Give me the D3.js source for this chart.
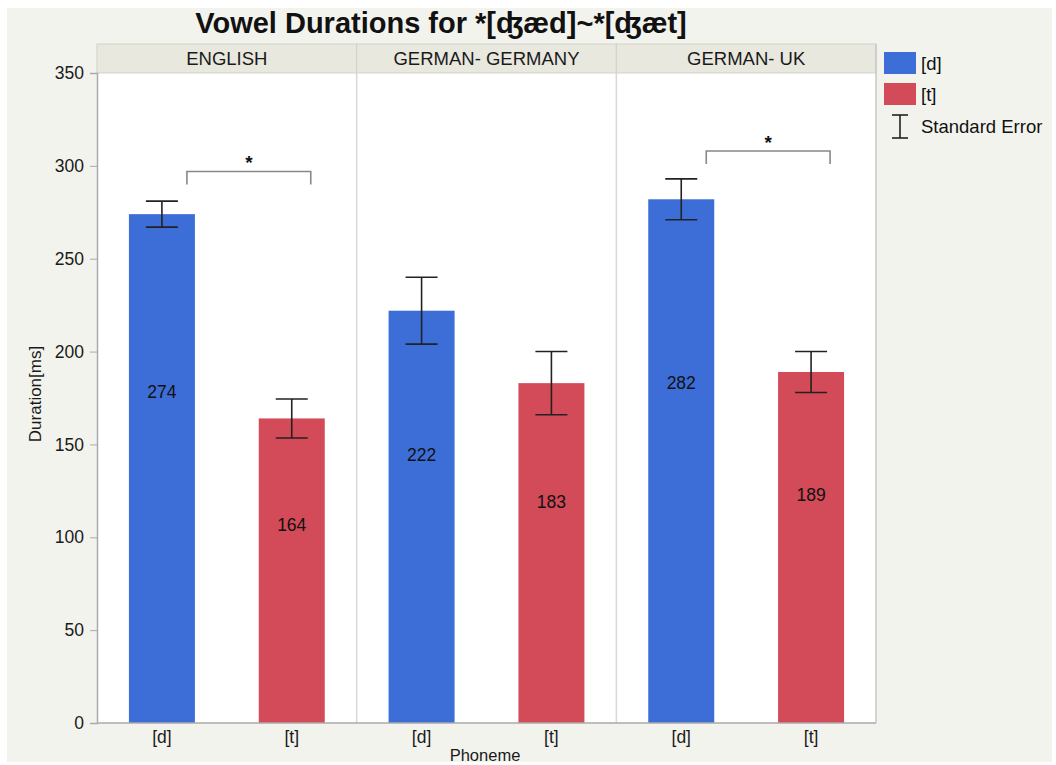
<!DOCTYPE html>
<html>
<head>
<meta charset="utf-8">
<script src="https://cdn.jsdelivr.net/npm/d3@7"></script>
<style>
  html, body { margin: 0; padding: 0; background: #ffffff; }
  svg { display: block; font-family: "Liberation Sans", Arial, sans-serif; }
</style>
</head>
<body>
<svg id="chart" width="1056" height="765"></svg>
<script>
// Panels (language groups) and phonemes within each panel
const groups = ["ENGLISH", "GERMAN- GERMANY", "GERMAN- UK"];
const phonemes = ["[d]", "[t]"];

// Mean vowel duration (ms), one array per phoneme, in group order
const meanD = [274, 222, 282];
const meanT = [164, 183, 189];

// Standard error (ms)
const seD = [7, 18, 11];
const seT = [10.5, 17, 11];

// Significance brackets: panel and bracket level (ms)
const sigGroups = ["ENGLISH", "GERMAN- UK"];
const sigLevels = [297, 308];

// Y-axis ticks
const yTicks = [0, 50, 100, 150, 200, 250, 300, 350];

const colors = { "[d]": "#3d6ed8", "[t]": "#d34a58" };

const rows = [];
groups.forEach((g, i) => {
  rows.push({ group: g, phoneme: "[d]", value: meanD[i], se: seD[i] });
  rows.push({ group: g, phoneme: "[t]", value: meanT[i], se: seT[i] });
});

const svg = d3.select("#chart");

// Frame background
svg.append("rect").attr("x", 7).attr("y", 8).attr("width", 1045).attr("height", 754)
  .attr("fill", "#f3f3ee");

const plot = { left: 97, right: 876, top: 73, bottom: 723 };
const stripTop = 44;

const y = d3.scaleLinear().domain([0, 350]).range([plot.bottom, plot.top]);
const xGroup = d3.scaleBand().domain(groups).range([plot.left, plot.right]).padding(0);
const xPh = d3.scalePoint().domain(phonemes).range([0, xGroup.bandwidth()]).padding(0.5);
const barW = 66;

// Plot background
svg.append("rect").attr("x", plot.left).attr("y", plot.top)
  .attr("width", plot.right - plot.left).attr("height", plot.bottom - plot.top)
  .attr("fill", "#ffffff");

// Strip headers
const strips = svg.append("g");
groups.forEach(g => {
  strips.append("rect").attr("x", xGroup(g)).attr("y", stripTop)
    .attr("width", xGroup.bandwidth()).attr("height", plot.top - stripTop)
    .attr("fill", "#e8e8df").attr("stroke", "#d2d2c9").attr("stroke-width", 1);
  strips.append("text").attr("x", xGroup(g) + xGroup.bandwidth() / 2).attr("y", 65)
    .attr("text-anchor", "middle").attr("font-size", 18.5).attr("fill", "#1a1a1a")
    .text(g);
});

// Panel separators
groups.slice(1).forEach(g => {
  svg.append("line").attr("x1", xGroup(g)).attr("x2", xGroup(g))
    .attr("y1", plot.top).attr("y2", plot.bottom)
    .attr("stroke", "#d8d8d8").attr("stroke-width", 1.5);
});
svg.append("line").attr("x1", plot.right).attr("x2", plot.right)
  .attr("y1", stripTop).attr("y2", plot.bottom)
  .attr("stroke", "#c8c8c8").attr("stroke-width", 1.5);

// Bar centre within its panel
const cx = d => xGroup(d.group) + xPh(d.phoneme);

// Bars
svg.append("g").selectAll("rect").data(rows).join("rect")
  .attr("x", d => cx(d) - barW / 2)
  .attr("y", d => y(d.value))
  .attr("width", barW)
  .attr("height", d => y(0) - y(d.value))
  .attr("fill", d => colors[d.phoneme]);

// Error bars
const eb = svg.append("g").attr("stroke", "#222").attr("stroke-width", 1.6);
rows.forEach(d => {
  const x0 = cx(d);
  eb.append("line").attr("x1", x0).attr("x2", x0).attr("y1", y(d.value + d.se)).attr("y2", y(d.value - d.se));
  eb.append("line").attr("x1", x0 - 16).attr("x2", x0 + 16).attr("y1", y(d.value + d.se)).attr("y2", y(d.value + d.se));
  eb.append("line").attr("x1", x0 - 16).attr("x2", x0 + 16).attr("y1", y(d.value - d.se)).attr("y2", y(d.value - d.se));
});

// Value labels inside bars
svg.append("g").selectAll("text").data(rows).join("text")
  .attr("x", d => cx(d))
  .attr("y", d => y(d.value * 0.65) + 6)
  .attr("text-anchor", "middle").attr("font-size", 17.5).attr("fill", "#111")
  .text(d => d.value);

// Significance brackets
sigGroups.forEach((g, i) => {
  const dRow = rows.find(r => r.group === g && r.phoneme === "[d]");
  const tRow = rows.find(r => r.group === g && r.phoneme === "[t]");
  const x1 = cx(dRow) + 25, x2 = cx(tRow) + 19;
  const yl = y(sigLevels[i]);
  svg.append("path")
    .attr("d", `M${x1},${yl + 13}V${yl}H${x2}V${yl + 13}`)
    .attr("fill", "none").attr("stroke", "#888").attr("stroke-width", 1.6);
  svg.append("text").attr("x", (x1 + x2) / 2).attr("y", yl - 2)
    .attr("text-anchor", "middle").attr("font-size", 19).attr("font-weight", "bold")
    .attr("fill", "#111").text("*");
});

// Y axis
const yAxis = svg.append("g").attr("transform", `translate(${plot.left},0)`)
  .call(d3.axisLeft(y).tickValues(yTicks).tickSize(7).tickPadding(6));
yAxis.select(".domain").attr("stroke", "#aaa").attr("stroke-width", 1.5);
yAxis.selectAll(".tick line").attr("stroke", "#aaa");
yAxis.selectAll(".tick text").attr("font-size", 17.5).attr("fill", "#1a1a1a")
  .attr("font-family", "Liberation Sans, Arial, sans-serif");

// X axis (phoneme labels per panel)
svg.append("line").attr("x1", plot.left).attr("x2", plot.right)
  .attr("y1", plot.bottom).attr("y2", plot.bottom)
  .attr("stroke", "#aaa").attr("stroke-width", 1.5);
svg.append("g").selectAll("text").data(rows).join("text")
  .attr("x", d => cx(d)).attr("y", 743)
  .attr("text-anchor", "middle").attr("font-size", 17.5).attr("fill", "#1a1a1a")
  .text(d => d.phoneme);

// Axis titles
svg.append("text").attr("x", 485).attr("y", 761).attr("text-anchor", "middle")
  .attr("font-size", 16.5).attr("fill", "#1a1a1a").text("Phoneme");
svg.append("text").attr("transform", "translate(41,394) rotate(-90)")
  .attr("text-anchor", "middle").attr("font-size", 17).attr("fill", "#1a1a1a")
  .text("Duration[ms]");

// Title
svg.append("text").attr("x", 441).attr("y", 33).attr("text-anchor", "middle")
  .attr("font-size", 29).attr("font-weight", "bold").attr("fill", "#111")
  .text("Vowel Durations for *[ʤæd]~*[ʤæt]");

// Legend
const lg = svg.append("g");
phonemes.forEach((p, i) => {
  lg.append("rect").attr("x", 884).attr("y", 52 + i * 31).attr("width", 32).attr("height", 22)
    .attr("fill", colors[p]);
  lg.append("text").attr("x", 921).attr("y", 70 + i * 31).attr("font-size", 18.5).attr("fill", "#111").text(p);
});
const ly = 115, lx = 900;
lg.append("line").attr("x1", lx).attr("x2", lx).attr("y1", ly).attr("y2", ly + 23).attr("stroke", "#222").attr("stroke-width", 1.6);
lg.append("line").attr("x1", lx - 8).attr("x2", lx + 8).attr("y1", ly).attr("y2", ly).attr("stroke", "#222").attr("stroke-width", 1.6);
lg.append("line").attr("x1", lx - 8).attr("x2", lx + 8).attr("y1", ly + 23).attr("y2", ly + 23).attr("stroke", "#222").attr("stroke-width", 1.6);
lg.append("text").attr("x", 921).attr("y", 133).attr("font-size", 18.5).attr("fill", "#111").text("Standard Error");
</script>
</body>
</html>
